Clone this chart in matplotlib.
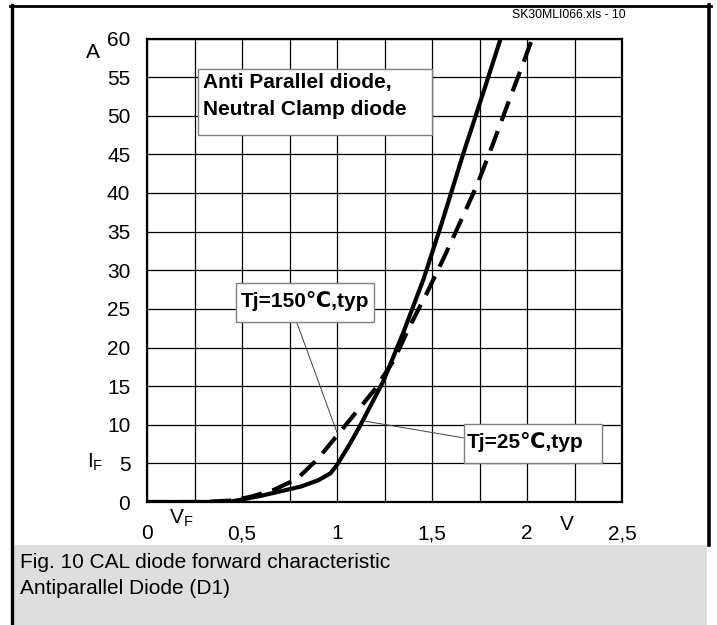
import matplotlib
matplotlib.use("Agg")
import matplotlib.pyplot as plt
from matplotlib.patches import Rectangle
from matplotlib.lines import Line2D
import numpy as np

plt.rcParams['font.family'] = ['Liberation Sans', 'DejaVu Sans']

# ---- data ----
v_25 = [0, 0.30, 0.44, 0.60, 0.81, 0.90, 0.965, 1.00, 1.06, 1.12, 1.245, 1.35, 1.456, 1.55, 1.666, 1.77, 1.868]
i_25 = [0, 0, 0.05, 0.8, 2.0, 2.8, 3.7, 4.8, 7.2, 9.8, 15.7, 22.0, 28.9, 36.0, 45.2, 53.0, 60.5]

v_150 = [0, 0.30, 0.45, 0.55, 0.67, 0.79, 0.90, 1.00, 1.10, 1.20, 1.30, 1.38, 1.48, 1.56, 1.65, 1.74, 1.82, 1.90, 1.98, 2.035]
i_150 = [0, 0, 0.2, 0.7, 1.6, 3.0, 5.6, 8.6, 11.6, 14.6, 18.4, 22.6, 27.4, 31.5, 36.3, 41.2, 46.3, 51.6, 56.8, 60.5]

x_ticks = [0, 0.5, 1, 1.5, 2, 2.5]
x_ticklabels = ['0', '0,5', '1', '1,5', '2', '2,5']
y_ticks = list(range(0, 61, 5))
y_ticklabels = [str(t) for t in y_ticks]

W, H = 717, 625
fig = plt.figure(figsize=(W / 100, H / 100), dpi=100)

def fx(px):
    return px / W

def fy(py):
    return 1 - py / H

ax = fig.add_axes([fx(147), fy(502), fx(622) - fx(147), fy(38.5) - fy(502)])
ax.set_xlim(0, 2.5)
ax.set_ylim(0, 60)
ax.set_xticks(x_ticks)
ax.set_xticklabels(x_ticklabels)
ax.set_yticks(y_ticks)
ax.set_yticklabels(y_ticklabels)
ax.set_xticks(np.arange(0, 2.51, 0.25), minor=True)
ax.tick_params(axis='both', which='both', length=0, labelsize=15)
ax.tick_params(axis='x', pad=16)
ax.tick_params(axis='y', pad=12)
ax.grid(True, which='both', color='black', linewidth=0.9)
for s in ax.spines.values():
    s.set_linewidth(1.6)
    s.set_zorder(5)
ax.set_axisbelow(True)

ax.plot(v_25, i_25, color='black', linewidth=3.0, solid_capstyle='butt', zorder=4)
ax.plot(v_150, i_150, color='black', linewidth=3.0, dashes=(5, 2.6), zorder=4)

# boxes
def box(x0, x1, y0, y1):
    ax.add_patch(Rectangle((x0, y0), x1 - x0, y1 - y0, transform=ax.transData,
                           facecolor='white', edgecolor='#808080', linewidth=1.0, zorder=6))

box(0.271, 1.50, 47.5, 56.1)
ax.text(0.295, 54.3, 'Anti Parallel diode,', fontsize=15, fontweight='bold', va='center', ha='left', zorder=7)
ax.text(0.295, 50.8, 'Neutral Clamp diode', fontsize=15, fontweight='bold', va='center', ha='left', zorder=7)

box(0.470, 1.197, 23.27, 28.4)
ax.text(0.491, 26.0, 'Tj=150\u2103,typ', fontsize=15, fontweight='bold', va='center', ha='left', zorder=7)
box(1.666, 2.395, 5.09, 10.13)
ax.text(1.684, 7.8, 'Tj=25\u2103,typ', fontsize=15, fontweight='bold', va='center', ha='left', zorder=7)

# leader lines
ax.annotate('', xy=(1.0, 9.0), xytext=(0.789, 23.2),
            arrowprops=dict(arrowstyle='-', color='#404040', lw=0.7, shrinkA=0, shrinkB=0), zorder=3)
ax.annotate('', xy=(1.14, 10.5), xytext=(1.666, 8.3),
            arrowprops=dict(arrowstyle='-', color='#404040', lw=0.7, shrinkA=0, shrinkB=0), zorder=3)

# axis unit labels
fig.text(fx(93), fy(53), 'A', fontsize=15, ha='center', va='center')
fig.text(fx(95), fy(462), r'$\mathregular{I_F}$', fontsize=15, ha='center', va='center')
fig.text(fx(181), fy(518), r'$\mathregular{V_F}$', fontsize=15, ha='center', va='center')
fig.text(fx(567), fy(525), 'V', fontsize=15, ha='center', va='center')

# header
fig.text(fx(626), fy(15.5), 'SK30MLI066.xls - 10', fontsize=8.8, ha='right', va='center')

# caption area
fig.patches.append(Rectangle((fx(13), 0), fx(707) - fx(13), fy(545), transform=fig.transFigure,
                             facecolor='#dedede', edgecolor='none', zorder=0))
fig.text(fx(20), fy(563), 'Fig. 10 CAL diode forward characteristic', fontsize=15, ha='left', va='center')
fig.text(fx(20), fy(589), 'Antiparallel Diode (D1)', fontsize=15, ha='left', va='center')

# outer frame
fig.lines.append(Line2D([fx(11.5), fx(11.5)], [fy(5), 0], transform=fig.transFigure, color='black', linewidth=2.4))
fig.lines.append(Line2D([fx(10.3), fx(711)], [fy(6), fy(6)], transform=fig.transFigure, color='black', linewidth=2.0))
fig.lines.append(Line2D([fx(709), fx(709)], [fy(5), fy(545)], transform=fig.transFigure, color='black', linewidth=2.6))

fig.savefig('out.png', dpi=100)
